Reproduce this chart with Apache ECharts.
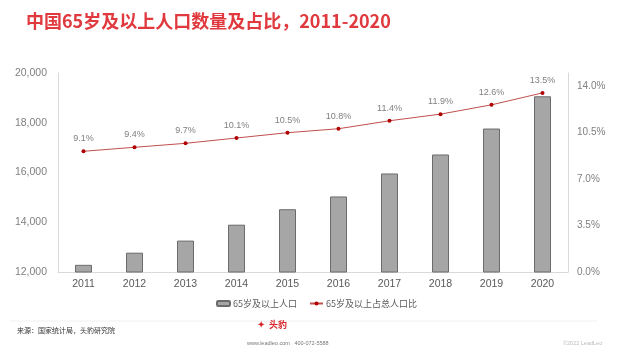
<!DOCTYPE html>
<html>
<head>
<meta charset="utf-8">
<script src="https://cdn.jsdelivr.net/npm/echarts@6/dist/echarts.min.js"></script>
<style>
  html, body { margin: 0; padding: 0; background: #fff; }
  #chart { width: 624px; height: 351px; }
</style>
</head>
<body>
<div id="chart"></div>
<script>
// 年份
var years = ['2011', '2012', '2013', '2014', '2015', '2016', '2017', '2018', '2019', '2020'];
// 65岁及以上人口（万人）
var population = [12288, 12777, 13262, 13902, 14524, 15037, 15961, 16724, 17767, 19064];
// 65岁及以上占总人口比（%）
var ratio = [9.1, 9.4, 9.7, 10.1, 10.5, 10.8, 11.4, 11.9, 12.6, 13.5];

var font = '"Liberation Sans", "Noto Sans CJK SC", sans-serif';
var cjk = '"Noto Sans CJK SC", sans-serif';
var myChart = echarts.init(document.getElementById('chart'));

var option = {
  backgroundColor: '#fff',
  title: {
    text: '中国65岁及以上人口数量及占比，2011-2020',
    left: 21,
    top: 7,
    textStyle: { color: '#e0393e', fontSize: 18, fontWeight: 'bold', fontFamily: cjk }
  },
  grid: { left: 58, right: 56, top: 73, bottom: 79 },
  legend: {
    top: 294,
    left: 211,
    itemGap: 12,
    itemWidth: 13,
    itemHeight: 5,
    textStyle: { color: '#595959', fontSize: 9, fontFamily: cjk, padding: [0, 0, 0, -2] },
    data: ['65岁及以上人口', '65岁及以上占总人口比']
  },
  xAxis: {
    type: 'category',
    data: years,
    axisLine: { lineStyle: { color: '#d9d9d9' } },
    axisTick: { show: false },
    axisLabel: { color: '#595959', fontSize: 10.5, fontFamily: font, margin: 7 }
  },
  yAxis: [
    {
      type: 'value',
      min: 12000,
      max: 20000,
      interval: 2000,
      splitLine: { show: false },
      axisLine: { show: true, lineStyle: { color: '#d9d9d9' } },
      axisTick: { show: false },
      axisLabel: {
        color: '#808080', fontSize: 10.5, fontFamily: font, margin: 11,
        formatter: function (v) { return v.toLocaleString('en-US'); }
      }
    },
    {
      type: 'value',
      min: 0,
      max: 15,
      interval: 3.5,
      splitLine: { show: false },
      axisLine: { show: true, lineStyle: { color: '#d9d9d9' } },
      axisTick: { show: false },
      axisLabel: {
        color: '#808080', fontSize: 10, fontFamily: font, margin: 9, showMaxLabel: false,
        formatter: function (v) { return v.toFixed(1) + '%'; }
      }
    }
  ],
  series: [
    {
      name: '65岁及以上人口',
      type: 'bar',
      data: population,
      barWidth: 17,
      itemStyle: { color: '#a6a6a6', borderColor: '#6b6b6b', borderWidth: 1 }
    },
    {
      name: '65岁及以上占总人口比',
      type: 'line',
      yAxisIndex: 1,
      data: ratio,
      symbol: 'circle',
      symbolSize: 4,
      lineStyle: { color: '#c0504d', width: 1 },
      itemStyle: { color: '#b00000' },
      label: {
        show: true,
        position: 'top',
        distance: 6,
        color: '#808080',
        fontSize: 9,
        fontFamily: font,
        formatter: function (p) { return p.value.toFixed(1) + '%'; }
      }
    }
  ],
  graphic: [
    { type: 'line', shape: { x1: 10, y1: 321, x2: 597, y2: 321 }, style: { stroke: '#f0f0f0', lineWidth: 1 } },
    { type: 'text', left: 17, top: 327, style: { text: '来源：国家统计局，头豹研究院', fill: '#333', fontSize: 7, fontFamily: cjk } },
    { type: 'text', left: 257, top: 320, style: { text: '✦', fill: '#d7262b', fontSize: 10 } },
    { type: 'text', left: 269, top: 320, style: { text: '头豹', fill: '#d7262b', fontSize: 9, fontWeight: 'bold', fontFamily: cjk } },
    { type: 'text', left: 247, top: 341, style: { text: 'www.leadleo.com   400-072-5588', fill: '#777', fontSize: 5.5, fontFamily: font } },
    { type: 'text', left: 563, top: 341, style: { text: '©2022 LeadLeo', fill: '#bbb', fontSize: 5.5, fontFamily: font } }
  ]
};

myChart.setOption(option);
</script>
</body>
</html>
